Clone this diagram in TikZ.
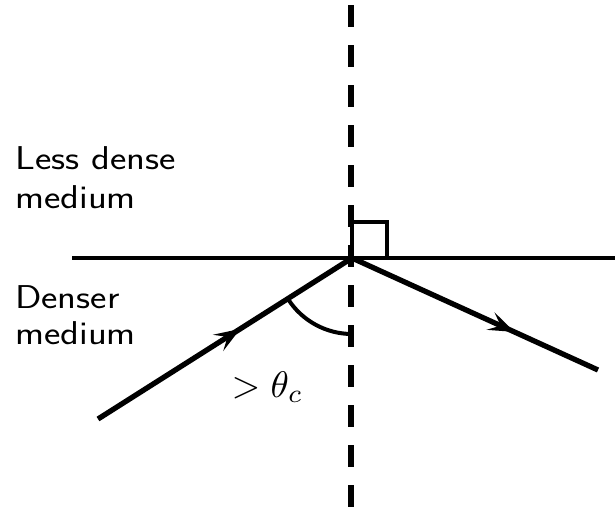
\documentclass[tikz,border=0pt]{standalone}
\usetikzlibrary{arrows.meta,decorations.markings}
\begin{document}
\begin{tikzpicture}[x=1pt,y=1pt,
  raystyle/.style={line width=5.3pt},
  lbl/.style={font=\sffamily\fontsize{33}{38}\selectfont, anchor=base west, inner sep=0pt},
  arrowmark/.style={postaction={decorate},decoration={markings,
      mark=at position #1 with {\arrow{Stealth[length=26pt,width=19pt,inset=11pt]}}}}]
\useasboundingbox (0,0) rectangle (615,-507);
\coordinate (O) at (352,-258);
\coordinate (A) at (98,-419);
\coordinate (B) at (598,-370);
\coordinate (T) at (351,-5);
\coordinate (Bt) at (351,-510);
\coordinate (L) at (72,-258);
\coordinate (R) at (615,-258);
\coordinate (Sq) at (387,-222);
% normal (dashed)
\draw[line width=5.3pt, dash pattern=on 22pt off 18pt] (T) -- (Bt);
% interface
\draw[line width=4.2pt] (L) -- (R);
% right angle box
\draw[line width=3.3pt] (O) rectangle (Sq);
% rays
\draw[raystyle, arrowmark=0.56] (A) -- (O);
\draw[raystyle, arrowmark=0.66] (O) -- (B);
% angle arc
\draw[line width=4pt] (O) ++(212.6:76) arc[start angle=212.6, end angle=270, radius=76];
% labels
\node[lbl] (less1) at (15,-169) {\scalebox{1.18}[1]{Less dense}};
\node[lbl] (less2) at (15,-208) {\scalebox{1.18}[1]{medium}};
\node[lbl] (den1) at (15,-308) {\scalebox{1.18}[1]{Denser}};
\node[lbl] (den2) at (15,-344) {\scalebox{1.18}[1]{medium}};
\node[anchor=base west, inner sep=0pt, scale=3.7] (ang) at (231,-397) {$>\theta_c$};
\end{tikzpicture}
\end{document}
